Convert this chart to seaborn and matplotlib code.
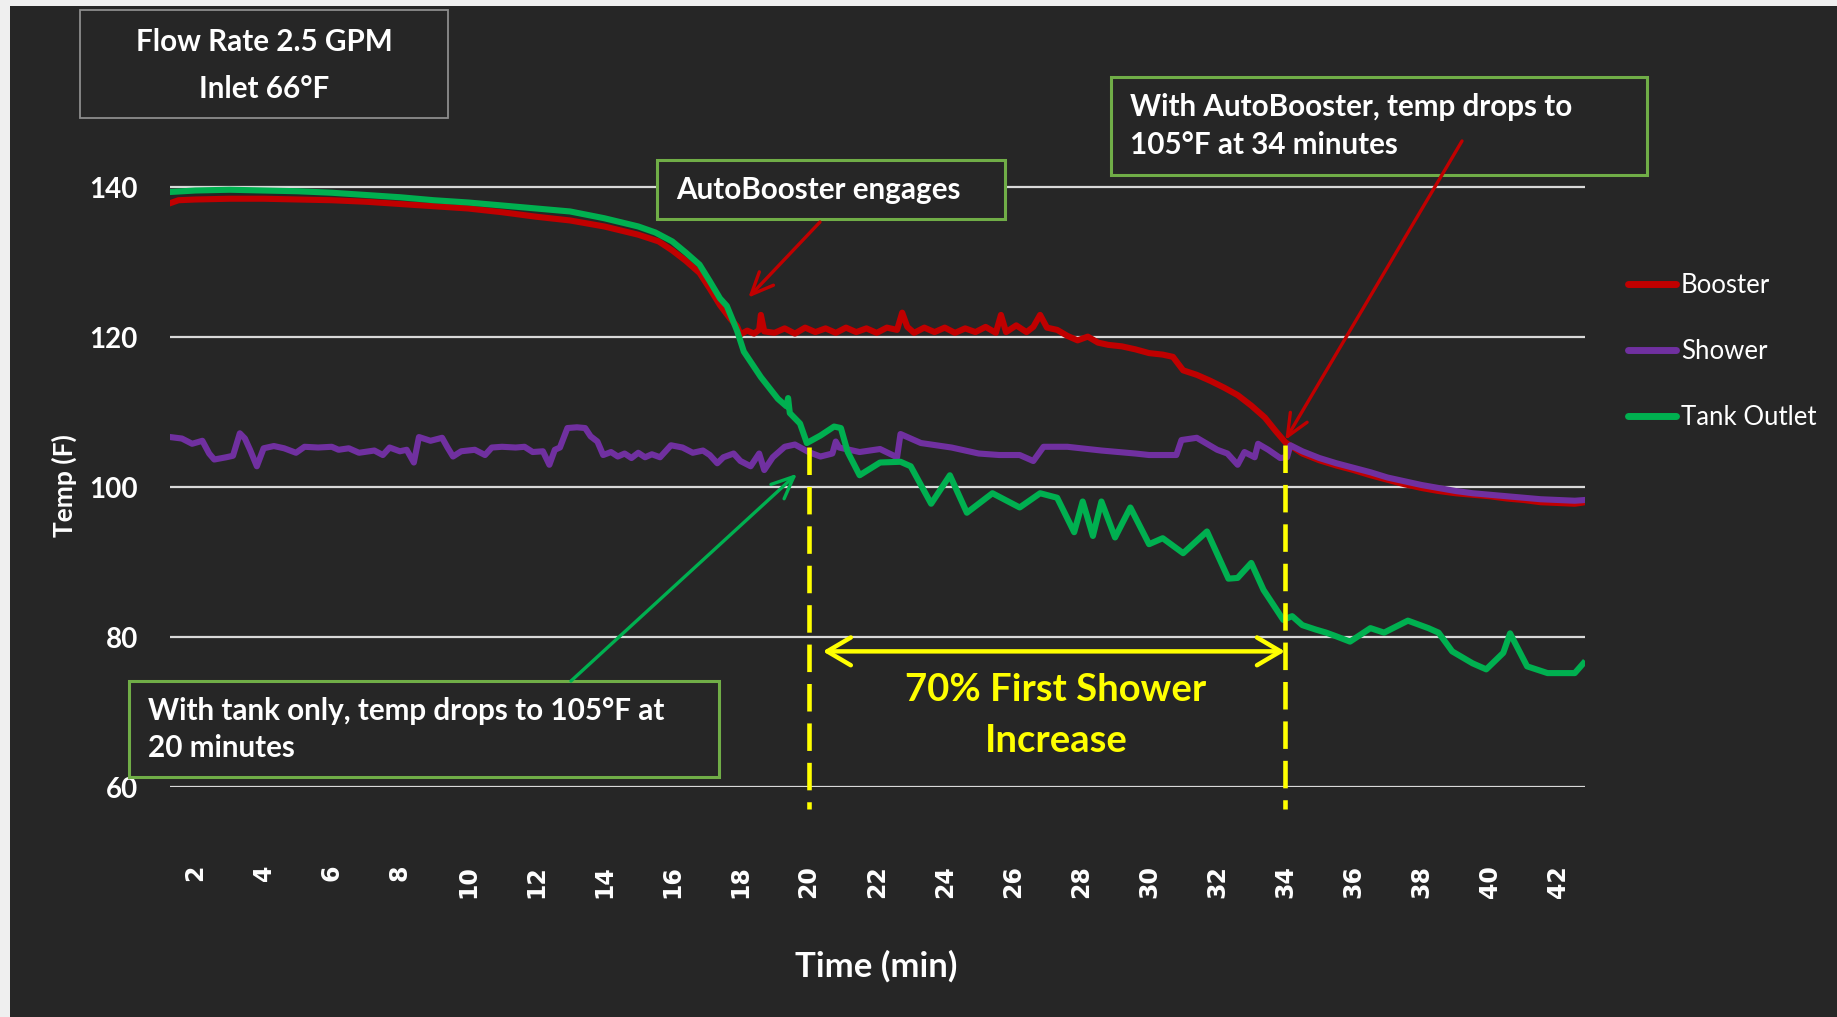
import numpy as np
import pandas as pd
import matplotlib.pyplot as plt
import seaborn as sns
from matplotlib.patches import Rectangle

# values (time in minutes, temperature in deg F)
booster_min = [1.25, 1.5, 2.0, 3.0, 4.0, 5.0, 6.0, 7.0, 8.0, 9.0, 10.0, 11.0, 12.0, 13.0, 14.0,
               15.0, 15.6, 16.0, 16.4, 16.8, 17.1, 17.4, 17.7, 17.9, 18.0, 18.2, 18.4, 18.55, 18.6,
               18.7, 19.0, 19.3, 19.6, 19.9, 20.2, 20.5, 20.8, 21.1, 21.4, 21.7, 22.0, 22.3, 22.6,
               22.75, 22.9, 23.1, 23.4, 23.7, 24.0, 24.3, 24.6, 24.9, 25.2, 25.5, 25.65, 25.8, 26.1,
               26.4, 26.6, 26.8, 27.0, 27.3, 27.6, 27.9, 28.2, 28.5, 28.8, 29.2, 29.6, 30.0, 30.4,
               30.7, 31.0, 31.4, 31.8, 32.2, 32.6, 33.0, 33.4, 33.7, 34.0, 34.5, 35.0, 35.5, 36.0,
               36.5, 37.0, 37.5, 38.0, 38.5, 39.0, 39.5, 40.0, 40.5, 41.0, 41.5, 42.0, 42.5, 42.8]
booster_f = [137.9, 138.3, 138.4, 138.5, 138.5, 138.4, 138.3, 138.1, 137.8, 137.5, 137.2, 136.7,
             136.1, 135.6, 134.8, 133.7, 132.8, 131.6, 130.2, 128.6, 126.5, 124.3, 122.5, 121.5,
             120.4, 120.9, 120.5, 121.0, 123.0, 120.8, 120.6, 121.2, 120.5, 121.3, 120.7, 121.2,
             120.6, 121.3, 120.7, 121.2, 120.6, 121.3, 121.0, 123.3, 121.4, 120.6, 121.3, 120.7,
             121.3, 120.6, 121.2, 120.7, 121.4, 120.6, 123.0, 120.7, 121.6, 120.7, 121.4, 123.0,
             121.3, 121.0, 120.2, 119.6, 120.1, 119.3, 119.0, 118.8, 118.4, 117.9, 117.7, 117.4,
             115.6, 115.0, 114.2, 113.3, 112.3, 110.9, 109.3, 107.6, 106.0, 104.5, 103.6, 102.9,
             102.3, 101.6, 101.0, 100.4, 99.9, 99.5, 99.2, 99.0, 98.8, 98.5, 98.3, 98.0, 97.9,
             97.8, 98.0]

shower_min = [1.25, 1.6, 1.9, 2.2, 2.4, 2.55, 2.9, 3.1, 3.3, 3.45, 3.6, 3.8, 4.0, 4.3, 4.6, 4.95,
              5.2, 5.6, 6.0, 6.2, 6.5, 6.8, 7.25, 7.5, 7.7, 8.0, 8.2, 8.41, 8.56, 8.9, 9.24, 9.4,
              9.56, 9.8, 10.2, 10.5, 10.7, 11.0, 11.4, 11.66, 11.9, 12.2, 12.39, 12.55, 12.7,
              12.92, 13.2, 13.44, 13.6, 13.8, 13.97, 14.2, 14.4, 14.6, 14.8, 15.0, 15.2, 15.4,
              15.64, 15.96, 16.3, 16.6, 16.9, 17.1, 17.32, 17.5, 17.8, 18.0, 18.3, 18.55, 18.7,
              18.95, 19.3, 19.6, 20.0, 20.35, 20.7, 20.8, 20.9, 21.2, 21.5, 22.1, 22.6, 22.7, 23.3,
              24.2, 25.0, 25.6, 26.2, 26.6, 26.9, 27.6, 28.6, 29.6, 30.0, 30.8, 30.95, 31.4, 32.0,
              32.3, 32.6, 32.8, 33.1, 33.2, 33.5, 33.85, 34.05, 34.15, 34.5, 35.0, 35.5, 36.0,
              36.5, 37.0, 37.5, 38.0, 38.5, 39.0, 39.5, 40.0, 40.5, 41.0, 41.5, 42.0, 42.5, 42.8]
shower_f = [106.7, 106.5, 105.8, 106.2, 104.5, 103.7, 104.0, 104.2, 107.2, 106.5, 105.0, 102.8,
            105.2, 105.5, 105.2, 104.6, 105.4, 105.3, 105.4, 105.0, 105.2, 104.6, 104.9, 104.3,
            105.3, 104.8, 105.0, 103.3, 106.7, 106.2, 106.6, 105.3, 104.1, 104.8, 105.0, 104.3,
            105.3, 105.4, 105.3, 105.4, 104.7, 104.8, 103.0, 105.0, 105.3, 107.9, 108.0, 107.9,
            106.8, 106.1, 104.3, 104.7, 104.1, 104.5, 103.9, 104.6, 104.0, 104.4, 104.0, 105.6,
            105.3, 104.6, 104.9, 104.3, 103.2, 104.0, 104.5, 103.5, 102.8, 104.5, 102.3, 104.0,
            105.4, 105.7, 104.7, 104.1, 104.5, 106.1, 105.3, 105.0, 104.7, 105.1, 104.0, 107.1,
            105.9, 105.3, 104.5, 104.3, 104.3, 103.5, 105.4, 105.4, 104.9, 104.5, 104.3, 104.3,
            106.3, 106.6, 105.0, 104.5, 103.0, 104.7, 104.0, 105.8, 105.0, 103.9, 104.0, 105.6,
            104.8, 103.9, 103.2, 102.6, 102.0, 101.3, 100.8, 100.3, 99.9, 99.5, 99.2, 99.0, 98.8,
            98.6, 98.4, 98.3, 98.2, 98.3]

tank_min = [1.25, 2.0, 3.0, 4.0, 5.0, 6.0, 7.0, 8.0, 9.0, 10.0, 11.0, 12.0, 13.0, 14.0, 15.0,
            15.5, 16.0, 16.4, 16.8, 17.1, 17.4, 17.6, 17.9, 18.1, 18.6, 19.1, 19.35, 19.4, 19.45,
            19.75, 19.95, 20.35, 20.75, 20.95, 21.15, 21.5, 22.1, 22.7, 23.0, 23.6, 24.15, 24.65,
            25.4, 26.2, 26.8, 27.3, 27.8, 28.05, 28.35, 28.6, 29.0, 29.45, 30.0, 30.4, 31.0, 31.7,
            32.33, 32.6, 33.0, 33.36, 33.94, 34.2, 34.5, 34.9, 35.2, 35.5, 35.9, 36.5, 36.9, 37.6,
            38.2, 38.5, 38.9, 39.5, 39.9, 40.4, 40.6, 41.1, 41.7, 42.5, 42.75]
tank_f = [139.4, 139.6, 139.7, 139.6, 139.5, 139.3, 139.0, 138.7, 138.3, 138.0, 137.6, 137.2,
          136.8, 135.9, 134.8, 134.0, 132.8, 131.3, 129.7, 127.5, 125.2, 124.2, 120.9, 118.1,
          114.7, 111.8, 110.8, 111.9, 109.9, 108.5, 105.9, 106.9, 108.1, 107.9, 104.7, 101.6,
          103.3, 103.4, 102.8, 97.8, 101.6, 96.6, 99.2, 97.3, 99.2, 98.6, 94.0, 98.1, 93.5, 98.1,
          93.3, 97.3, 92.4, 93.2, 91.2, 94.1, 87.8, 87.9, 89.9, 86.3, 82.3, 82.8, 81.6, 81.0,
          80.6, 80.1, 79.4, 81.2, 80.6, 82.2, 81.2, 80.6, 78.1, 76.5, 75.7, 77.9, 80.5, 76.1,
          75.2, 75.2, 76.5]

series_names = ["Booster", "Shower", "Tank Outlet"]
series_colors = ["#C00000", "#7030A0", "#00B050"]
y_ticks = [60, 80, 100, 120, 140]
x_ticks = list(range(2, 43, 2))
tank_only_min, booster_hold_min = 20, 34

df = pd.concat([
    pd.DataFrame({"Time": booster_min, "Temp": booster_f, "Series": "Booster"}),
    pd.DataFrame({"Time": shower_min, "Temp": shower_f, "Series": "Shower"}),
    pd.DataFrame({"Time": tank_min, "Temp": tank_f, "Series": "Tank Outlet"}),
], ignore_index=True)

BG = "#262626"
W, H = 1837, 1017
FONT = ["Lato", "DejaVu Sans"]


def px(x, y):
    # full-size pixel position -> figure fraction
    return x / W, 1 - y / H


fig = plt.figure(figsize=(W / 100, H / 100), dpi=100, facecolor=BG)
# thin light margin at the top and left of the slide
fig.patches.append(Rectangle((0, 1 - 6 / H), 1, 6 / H, transform=fig.transFigure,
                             facecolor="#EFEFEF", edgecolor="none"))
fig.patches.append(Rectangle((0, 0), 10 / W, 1, transform=fig.transFigure,
                             facecolor="#EFEFEF", edgecolor="none"))

ax = fig.add_axes([170 / W, 1 - 787 / H, 1415 / W, 607 / H])
ax.set_facecolor(BG)

sns.lineplot(data=df, x="Time", y="Temp", hue="Series", hue_order=series_names,
             palette=series_colors, estimator=None, sort=False, linewidth=4.4, ax=ax)

ax.set_xlim(1.25, 42.8)
ax.set_ylim(60, 141)
ax.set_yticks(y_ticks)
ax.set_xticks(x_ticks)
ax.grid(axis="y", color="#D9D9D9", linewidth=1.6)
ax.grid(axis="x", visible=False)
ax.set_axisbelow(True)
for s in ax.spines.values():
    s.set_visible(False)
ax.tick_params(axis="x", length=0, pad=56, colors="white")
ax.tick_params(axis="y", length=0, pad=23, colors="white")
for lab in ax.get_xticklabels():
    lab.set_rotation(90)
    lab.set_fontsize(17)
    lab.set_fontweight("bold")
    lab.set_family("DejaVu Sans")
    lab.set_va("top")
for lab in ax.get_yticklabels():
    lab.set_fontsize(20)
    lab.set_fontweight("bold")
    lab.set_family(FONT)
ax.set_xlabel("")
ax.set_ylabel("")

fig.text(*px(876, 966), "Time (min)", ha="center", va="center", color="white",
         fontsize=25, fontweight="bold", family=FONT)
fig.text(*px(64, 486), "Temp (F)", ha="center", va="center", rotation=90, color="white",
         fontsize=19, fontweight="bold", family=FONT)

handles, labels = ax.get_legend_handles_labels()
leg = ax.legend(handles, labels, loc="upper left", bbox_to_anchor=px(1628, 273),
                bbox_transform=fig.transFigure, frameon=False, borderpad=0, borderaxespad=0,
                handlelength=1.85, handletextpad=0.2, labelspacing=1.6,
                prop={"family": FONT, "size": 18.5})
for t in leg.get_texts():
    t.set_color("white")
for l in leg.get_lines():
    l.set_linewidth(5)
    l.set_solid_capstyle("round")


def box(x0, y0, x1, y1, edge, lw):
    ax.add_patch(Rectangle(px(x0, y1), (x1 - x0) / W, (y1 - y0) / H,
                           transform=fig.transFigure, facecolor=BG, clip_on=False,
                           edgecolor=edge, linewidth=lw, zorder=5))


def label(x, y, s, **kw):
    ax.text(*px(x, y), s, transform=fig.transFigure, va="center", color="white",
            fontsize=21.3, fontweight="bold", family=FONT, zorder=7, **kw)


# info box
box(80, 10, 448, 118, "#8C8C8C", 1.3)
label(264, 42, "Flow Rate 2.5 GPM", ha="center")
label(264, 89, "Inlet 66°F", ha="center")

# callouts
GREEN_EDGE = "#70AD47"
box(657, 160, 1005, 219, GREEN_EDGE, 2.2)
label(676, 190, "AutoBooster engages", ha="left")

box(1111, 77, 1647, 175, GREEN_EDGE, 2.2)
label(1130, 107, "With AutoBooster, temp drops to", ha="left")
label(1130, 145, "105°F at 34 minutes", ha="left")

box(129, 681, 719, 777, GREEN_EDGE, 2.2)
label(148, 711, "With tank only, temp drops to 105°F at", ha="left")
label(148, 748, "20 minutes", ha="left")

arrow = dict(arrowstyle="->,head_length=0.8,head_width=0.35", lw=2.4,
             shrinkA=0, shrinkB=0, mutation_scale=20)
ax.annotate("", xy=(18.23, 125.3), xytext=px(820, 222), textcoords="figure fraction",
            arrowprops=dict(color="#C00000", **arrow), annotation_clip=False, zorder=6)
ax.annotate("", xy=(booster_hold_min, 106.3), xytext=px(1462, 141), textcoords="figure fraction",
            arrowprops=dict(color="#C00000", **arrow), annotation_clip=False, zorder=6)
ax.annotate("", xy=(19.66, 101.8), xytext=px(571, 681), textcoords="figure fraction",
            arrowprops=dict(color="#00B050", **arrow), annotation_clip=False, zorder=6)

# 70% span markers
YEL = "#FFFF00"
for m, top in [(tank_only_min, 105.4), (booster_hold_min, 105.7)]:
    ax.plot([m, m], [top, 57.0], color=YEL, lw=3.3, dashes=(6, 2.6), clip_on=False, zorder=4)
ax.annotate("", xy=(tank_only_min + 0.42, 78.1), xytext=(booster_hold_min - 0.01, 78.1),
            arrowprops=dict(arrowstyle="<->,head_length=0.85,head_width=0.5", color=YEL, lw=3.2,
                            shrinkA=0, shrinkB=0, mutation_scale=20))
ax.text(*px(1056, 690), "70% First Shower", transform=fig.transFigure, ha="center", va="center",
        color=YEL, fontsize=27.5, fontweight="bold", family=FONT)
ax.text(*px(1056, 741), "Increase", transform=fig.transFigure, ha="center", va="center",
        color=YEL, fontsize=27.5, fontweight="bold", family=FONT)

plt.savefig("out.png", dpi=100, facecolor=fig.get_facecolor())
plt.close()
